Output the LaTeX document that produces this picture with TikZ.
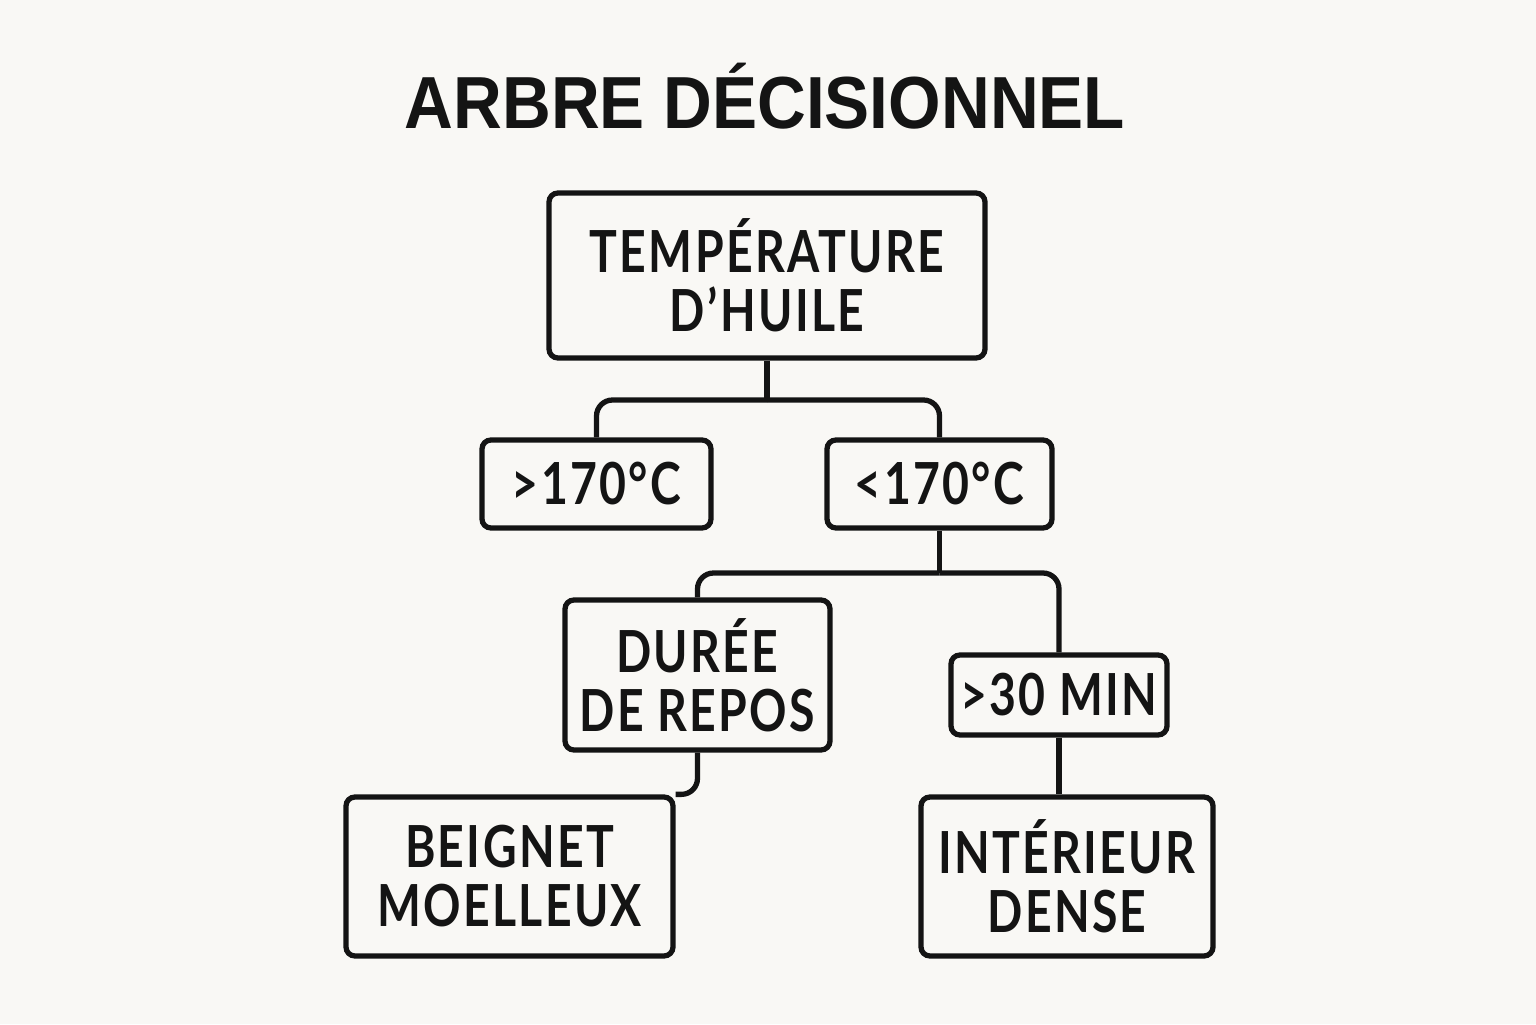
\documentclass[tikz,border=0pt]{standalone}
\usepackage{fontspec}
\setmainfont{Lato}[FakeStretch=0.8, LetterSpace=4]
\newfontfamily\titlefont[FakeStretch=0.915]{Liberation Sans}
\usetikzlibrary{positioning}
\definecolor{paper}{HTML}{F9F8F5}
\definecolor{ink}{HTML}{141414}

\begin{document}
\begin{tikzpicture}[
  box/.style={draw=ink, line width=1.5pt, rectangle, rounded corners=0.09cm, align=center, font=\fontsize{16.5}{16.8}\selectfont\bfseries, text=ink, inner sep=0pt},
  link/.style={draw=ink, line width=1.5pt, rounded corners=0.16cm}
]
\fill[paper] (0,0) rectangle (15.36,10.24);
\useasboundingbox (0,0) rectangle (15.36,10.24);

% Title
\node[font=\titlefont\fontsize{21}{24}\selectfont\bfseries, text=ink] (title) at (7.65,9.28) {ARBRE DÉCISIONNEL};

% Boxes
\node[box, minimum width=4.36cm, minimum height=1.65cm] (temp) at (7.67,7.485) {TEMPÉRATURE\\D’HUILE};
\node[box, minimum width=2.29cm, minimum height=0.88cm] (hot) at (5.965,5.40) {>170°C};
\node[box, minimum width=2.25cm, minimum height=0.88cm] (cool) at (9.395,5.40) {<170°C};
\node[box, minimum width=2.65cm, minimum height=1.50cm] (repos) at (6.975,3.49) {DURÉE\\DE REPOS};
\node[box, minimum width=2.16cm, minimum height=0.80cm] (long) at (10.59,3.29) {>30 MIN};
\node[box, minimum width=3.27cm, minimum height=1.59cm] (beignet) at (5.095,1.475) {BEIGNET\\MOELLEUX};
\node[box, minimum width=2.92cm, minimum height=1.59cm] (dense) at (10.67,1.475) {INTÉRIEUR\\DENSE};

% Branch points
\coordinate (split1) at (7.67,6.24);
\coordinate (split2) at (9.395,4.51);

% Connectors
\draw[link] (temp.south) -- (split1);
\draw[link] (split1) -| (hot.north);
\draw[link] (split1) -| (cool.north);
\draw[link] (cool.south) -- (split2);
\draw[link] (split2) -| (repos.north);
\draw[link] (split2) -| (long.north);
\draw[link] (repos.south) |- (beignet.north east);
\draw[link] (long.south) -- (long.south |- dense.north);

\end{tikzpicture}
\end{document}
